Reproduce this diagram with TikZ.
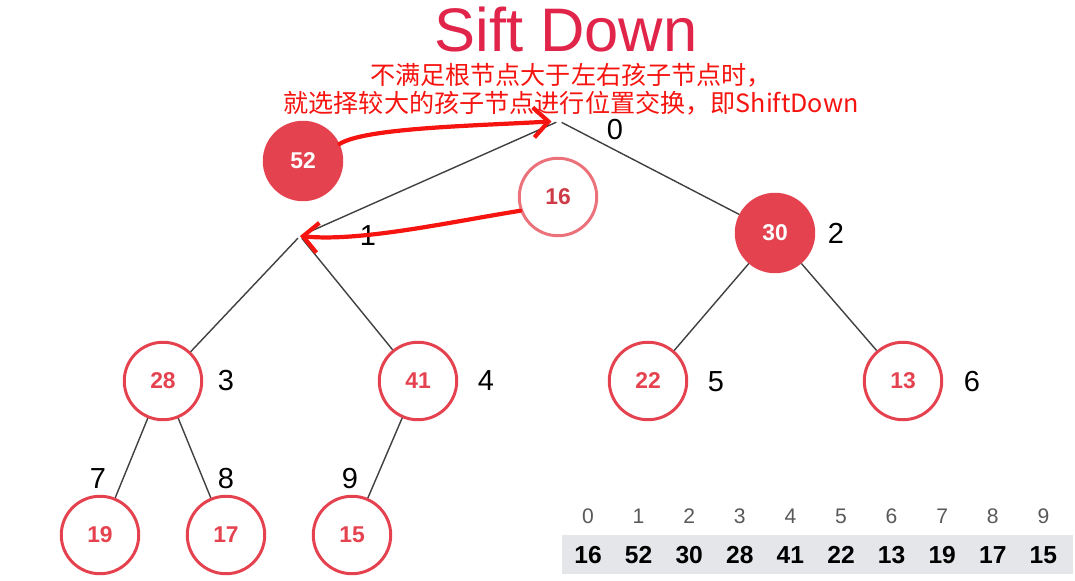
\documentclass[tikz,border=0pt]{standalone}
\usepackage{fontspec}
\setmainfont{Liberation Sans}
\newfontfamily\cjk{Noto Sans CJK SC}
\usetikzlibrary{arrows.meta}
\definecolor{heapred}{HTML}{E5424F}
\definecolor{titlered}{HTML}{E0244A}
\definecolor{notered}{HTML}{F5140F}
\definecolor{cellgray}{HTML}{E4E6EA}
\tikzset{
	heapnode/.style={circle, draw=heapred, line width=1.7pt, minimum size=1.55cm, inner sep=0pt, text=heapred, font=\bfseries\fontsize{13}{13}\selectfont},
	heapfull/.style={heapnode, fill=heapred, text=white},
	heapghost/.style={heapnode, draw=heapred!75, text=heapred!90!black},
	idx/.style={font=\fontsize{16.5}{16.5}\selectfont},
	edge/.style={draw=black!75, line width=0.8pt},
	swap/.style={draw=notered, line width=2.4pt, line cap=round, line join=round, -{Straight Barb[length=0.3cm,width=0.6cm]}}
}

\begin{document}
\begin{tikzpicture}[x=0.02cm, y=-0.02cm]
			%%%%% START %%%%%
			\useasboundingbox (0,0) rectangle (1075,581);
			
			\node[text=titlered, font=\fontsize{35}{35}\selectfont] (title) at (566,30) {Sift Down};
			\node[text=notered, font=\cjk\fontsize{14.3}{16}\selectfont, align=center] (note) at (571,89) {不满足根节点大于左右孩子节点时，\\就选择较大的孩子节点进行位置交换，即ShiftDown};
			
			% empty slots of the heap
			\coordinate (r0) at (559,121);
			\coordinate (r1) at (300,236);
			
			\node[heapfull] (v52) at (303,161) {52};
			\node[heapghost] (v16) at (558,197) {16};
			
			\node[heapfull] (n2) at (775,233) {30};
			\node[heapnode] (n3) at (163,381) {28};
			\node[heapnode] (n4) at (418,381) {41};
			\node[heapnode] (n5) at (648,381) {22};
			\node[heapnode] (n6) at (903,381) {13};
			\node[heapnode] (n7) at (100,535) {19};
			\node[heapnode] (n8) at (226,535) {17};
			\node[heapnode] (n9) at (352,535) {15};
			
			\node[idx] (l0) at (615,130) {0};
			\node[idx] (l1) at (368,236) {1};
			\node[idx] (l2) at (836,233) {2};
			\node[idx] (l3) at (226,381) {3};
			\node[idx] (l4) at (486,381) {4};
			\node[idx] (l5) at (716,382) {5};
			\node[idx] (l6) at (972,382) {6};
			\node[idx] (l7) at (98,479) {7};
			\node[idx] (l8) at (226,479) {8};
			\node[idx] (l9) at (350,479) {9};
			
			\draw[edge, shorten <=1.7pt, shorten >=1.7pt] (r0) -- (r1);
			\draw[edge, shorten <=1.7pt] (r0) -- (n2);
			\draw[edge, shorten <=1.7pt] (r1) -- (n3);
			\draw[edge, shorten <=1.7pt] (r1) -- (n4);
			\draw[edge] (n2) -- (n5);
			\draw[edge] (n2) -- (n6);
			\draw[edge] (n3) -- (n7);
			\draw[edge] (n3) -- (n8);
			\draw[edge] (n4) -- (n9);
			
			\draw[swap, shorten >=0.15cm] (v52.25) .. controls (365,128) and (470,126) .. (r0);
			\draw[swap] (v16.200) .. controls (450,222) and (360,242) .. (r1);
			
			% array
			\fill[cellgray] (562,535) rectangle (1073,574);
			\foreach \v [count=\i from 0] in {16,52,30,28,41,22,13,19,17,15}
			{
				\node[font=\fontsize{12}{12}\selectfont, text=black!65] (a\i) at (588+50.6*\i,516) {\i};
				\node[font=\bfseries\fontsize{14}{14}\selectfont] (b\i) at (588+50.6*\i,555) {\v};
			}
			
			%%%%% END %%%%%
\end{tikzpicture}
\end{document}
